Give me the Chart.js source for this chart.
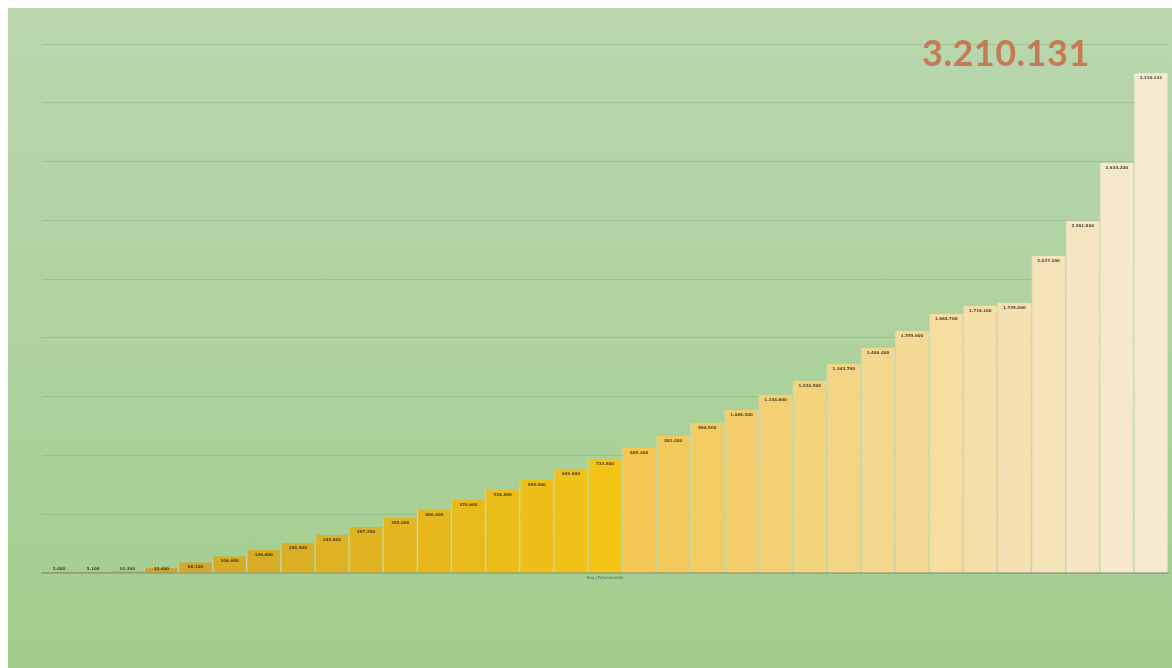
<!DOCTYPE html>
<html>
<head>
<meta charset="utf-8">
<script src="https://cdn.jsdelivr.net/npm/chart.js@4"></script>
<style>
  body { margin: 0; background: #fff; }
  .wrap {
    position: absolute; left: 8px; top: 8px; width: 1164px; height: 660px;
    background: linear-gradient(#bad7ae, #a3cd8e);
  }
  .big {
    position: absolute; left: 914px; top: 22px;
    font: bold 36px Lato, sans-serif; color: #c47b55; letter-spacing: 0.5px;
  }
</style>
</head>
<body>
<div class="wrap">
  <canvas id="growthChart"></canvas>
  <div class="big">3.210.131</div>
</div>
<script>
// data
const labels = ['1','2','3','4','5','6','7','8','9','10','11','12','13','14','15','16','17',
                '18','19','20','21','22','23','24','25','26','27','28','29','30','31','32','33'];
const values = [2400, 5100, 10300, 32400, 68100, 106600, 149600, 194500, 245900, 297200,
                355000, 406400, 470600, 534800, 599000, 669600, 733800, 805400, 881400,
                964900, 1048300, 1144600, 1234500, 1343700, 1446400, 1555600, 1664700,
                1716100, 1735400, 2037100, 2261800, 2634200, 3210131];
const yStep = 377500;
const yMax = yStep * 9;

function mix(a, b, t) {
    const p = [0, 2, 4].map(i => parseInt(a.substr(i + 1, 2), 16));
    const q = [0, 2, 4].map(i => parseInt(b.substr(i + 1, 2), 16));
    return 'rgb(' + p.map((v, i) => Math.round(v + (q[i] - v) * t)).join(',') + ')';
}

// bar colours: dark gold -> yellow, then light yellow -> cream
const colors = labels.map((l, i) => {
    if (i < 17) return mix('#c89f2e', '#f3c416', i / 16);
    return mix('#f3c752', '#f6ead3', (i - 17) / 15);
});

const fmt = v => String(v).replace(/\B(?=(\d{3})+(?!\d))/g, '.');

const barLabels = {
    id: 'barLabels',
    afterDatasetsDraw(chart) {
        const ctx = chart.ctx;
        const meta = chart.getDatasetMeta(0);
        const base = chart.scales.y.getPixelForValue(0);
        ctx.save();
        ctx.font = 'bold 4px "DejaVu Sans", sans-serif';
        ctx.fillStyle = 'rgba(50,44,28,0.85)';
        ctx.textAlign = 'center';
        ctx.textBaseline = 'middle';
        meta.data.forEach((bar, i) => {
            const y = Math.min(bar.y + 5, base - 4);
            ctx.fillText(fmt(values[i]), bar.x, y);
        });
        // tiny axis caption
        ctx.font = '4px "DejaVu Sans", sans-serif';
        ctx.fillStyle = '#55604c';
        ctx.fillText('Ano / Faturamento', (chart.chartArea.left + chart.chartArea.right) / 2, base + 5);
        ctx.restore();
    }
};

new Chart(document.getElementById('growthChart'), {
    type: 'bar',
    data: {
        labels: labels,
        datasets: [{
            data: values,
            backgroundColor: colors,
            borderColor: 'rgba(255,255,255,0.2)',
            borderWidth: { left: 1, right: 1, top: 0, bottom: 0 },
            barPercentage: 1,
            categoryPercentage: 1
        }]
    },
    options: {
        responsive: true,
        maintainAspectRatio: false,
        animation: false,
        layout: { padding: { left: 34, right: 4, top: 36, bottom: 95 } },
        plugins: {
            legend: { display: false },
            tooltip: { enabled: false }
        },
        scales: {
            y: {
                min: 0,
                max: yMax,
                ticks: { display: false, stepSize: yStep },
                grid: { color: 'rgba(110,145,95,0.28)', drawTicks: false },
                border: { display: false }
            },
            x: {
                ticks: { display: false },
                grid: { display: false, drawTicks: false },
                border: { color: '#8c9a84', width: 1.5 }
            }
        }
    },
    plugins: [barLabels]
});
</script>
</body>
</html>
